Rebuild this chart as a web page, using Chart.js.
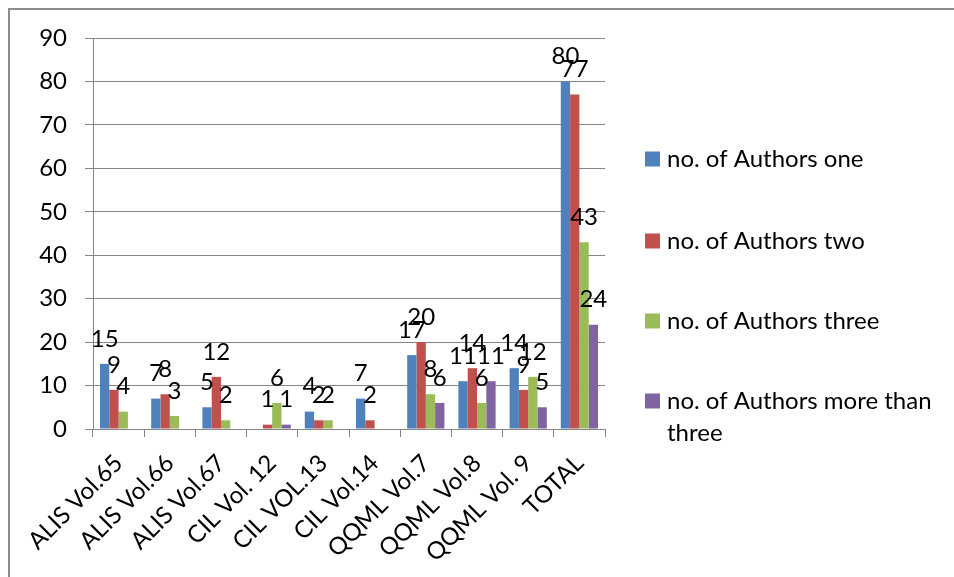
<!DOCTYPE html>
<html>
<head>
<meta charset="utf-8">
<script src="https://cdn.jsdelivr.net/npm/chart.js@4.4.1/dist/chart.umd.min.js"></script>
<style>
  html, body { margin: 0; padding: 0; background: #fff; }
  #wrap { position: relative; width: 954px; height: 577px; overflow: hidden; }
  #frame { position: absolute; left: 8px; top: 8px; width: 1000px; height: 700px;
           border-left: 2px solid #8c8c8c; border-top: 2px solid #8c8c8c; }
  canvas { position: absolute; left: 0; top: 0; }
</style>
</head>
<body>
<div id="wrap">
  <div id="frame"></div>
  <canvas id="chart" width="954" height="577"></canvas>
</div>
<script>
let categories = ["ALIS Vol.65", "ALIS Vol.66", "ALIS Vol.67", "CIL Vol. 12", "CIL VOL.13",
  "CIL Vol.14", "QQML Vol.7", "QQML Vol.8", "QQML Vol. 9", "TOTAL"];

let authorsOne   = [15, 7, 5, null, 4, 7, 17, 11, 14, 80];
let authorsTwo   = [9, 8, 12, 1, 2, 2, 20, 14, 9, 77];
let authorsThree = [4, 3, 2, 6, 2, null, 8, 6, 12, 43];
let authorsMore  = [null, null, null, 1, null, null, 6, 11, 5, 24];

let seriesNames = ["no. of Authors one", "no. of Authors two",
  "no. of Authors three", ["no. of Authors more than", "three"]];
let colors = ["#4f81bd", "#c0504d", "#9bbb59", "#8064a2"];

let yMin = 0, yMax = 90, yStep = 10;

const FONT = "Lato";
const FSIZE = 24;

/* value labels above the bars */
const valueLabels = {
  id: "valueLabels",
  afterDatasetsDraw(chart) {
    let ctx = chart.ctx;
    ctx.save();
    ctx.font = FSIZE + "px " + FONT;
    ctx.fillStyle = "#000";
    ctx.textAlign = "center";
    ctx.textBaseline = "middle";
    chart.data.datasets.forEach((ds, i) => {
      chart.getDatasetMeta(i).data.forEach((bar, j) => {
        let v = ds.data[j];
        if (v === null) return;
        ctx.fillText(String(v), bar.x, bar.y - 25);
      });
    });
    ctx.restore();
  }
};

/* legend on the right, the way the sheet lays it out */
const sideLegend = {
  id: "sideLegend",
  afterDraw(chart) {
    let ctx = chart.ctx;
    let rows = [159, 241, 321, 401];
    ctx.save();
    ctx.font = FSIZE + "px " + FONT;
    ctx.textBaseline = "middle";
    ctx.textAlign = "left";
    chart.data.datasets.forEach((ds, i) => {
      let y = rows[i];
      ctx.fillStyle = ds.backgroundColor;
      ctx.fillRect(645, y - 7.5, 15, 15);
      ctx.fillStyle = "#000";
      let lines = Array.isArray(ds.label) ? ds.label : [ds.label];
      lines.forEach((t, k) => ctx.fillText(t, 667, y + k * 32));
    });
    ctx.restore();
  }
};

let series = [authorsOne, authorsTwo, authorsThree, authorsMore];

new Chart(document.getElementById("chart"), {
  type: "bar",
  data: {
    labels: categories,
    datasets: series.map((d, i) => ({
      label: seriesNames[i],
      data: d,
      backgroundColor: colors[i],
      categoryPercentage: 0.727,
      barPercentage: 1.0
    }))
  },
  options: {
    responsive: false,
    animation: false,
    layout: { padding: { left: 10, top: 38, right: 349, bottom: 0 } },
    plugins: {
      legend: { display: false },
      tooltip: { enabled: false }
    },
    scales: {
      x: {
        afterFit: s => { s.height = 148; },
        grid: { drawOnChartArea: false, drawTicks: true, tickLength: 8, offset: true, color: "#868686" },
        border: { color: "#868686", width: 1 },
        ticks: {
          color: "#000",
          font: { family: FONT, size: FSIZE },
          minRotation: 45,
          maxRotation: 45,
          autoSkip: false,
          padding: 12
        }
      },
      y: {
        min: yMin,
        max: yMax,
        afterFit: s => { s.width = 83; },
        grid: { color: "#868686", tickLength: 8 },
        border: { color: "#868686", width: 1 },
        ticks: {
          stepSize: yStep,
          color: "#000",
          font: { family: FONT, size: FSIZE },
          padding: 18
        }
      }
    }
  },
  plugins: [valueLabels, sideLegend]
});
</script>
</body>
</html>
